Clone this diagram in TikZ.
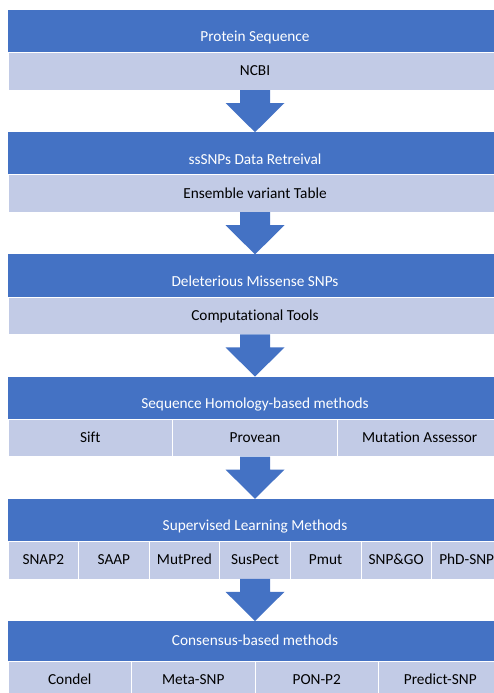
\documentclass[tikz,border=0pt]{standalone}
\usepackage{fontspec}
\setmainfont{Carlito}[Ligatures=NoCommon]
\usetikzlibrary{calc}
\definecolor{hdrblue}{HTML}{4472C4}
\definecolor{cellblue}{HTML}{C2CBE6}
\newcommand{\blockarrow}[2]{%
  \fill[flow] ($(#1)+(-15,0)$) -- ($(#1)+(-15,13)$) -- ($(#1)+(-29.5,13)$) -- (#2)
    -- ($(#1)+(29.5,13)$) -- ($(#1)+(15,13)$) -- ($(#1)+(15,0)$) -- cycle;}
\begin{document}
\begin{tikzpicture}[x=1pt,y=-1pt,
  base/.style={inner sep=0pt, outer sep=0pt, anchor=north west,
    font=\fontsize{15.3}{17}\selectfont},
  hdr/.style={base, fill=hdrblue, text=white, minimum width=494pt,
    minimum height=42.5pt, text height=22pt, text depth=0.6pt},
  hdrlast/.style={hdr, minimum height=40pt, text height=10pt, text depth=0.6pt},
  cell/.style={base, fill=cellblue, draw=white, line width=0.6pt, text=black,
    minimum height=37.5pt, text height=10pt, text depth=0.6pt},
  flow/.style={fill=hdrblue}]
\useasboundingbox (0,0) rectangle (494,693);
\clip (0,0) rectangle (494,693);
% block 1
\node[hdr] (h1) at (8,10) {Protein Sequence};
\node[cell, minimum width=494pt] (c1) at (8,52.5) {NCBI};
% block 2
\node[hdr] (h2) at (8,132.2) {ssSNPs Data Retreival};
\node[cell, minimum width=494pt] (c2) at (8,174.7) {Ensemble variant Table};
% block 3
\node[hdr] (h3) at (8,254.4) {Deleterious Missense SNPs};
\node[cell, minimum width=494pt] (c3) at (8,296.9) {Computational Tools};
% block 4
\node[hdr] (h4) at (8,376.6) {Sequence Homology-based methods};
\node[cell, minimum width=164.667pt] (c4a) at (8,419.1) {Sift};
\node[cell, minimum width=164.667pt] (c4b) at (172.667,419.1) {Provean};
\node[cell, minimum width=164.667pt] (c4c) at (337.333,419.1) {Mutation Assessor};
% block 5
\node[hdr] (h5) at (8,498.8) {Supervised Learning Methods};
\node[cell, minimum width=70.571pt] (c5a) at (8,541.3) {SNAP2};
\node[cell, minimum width=70.571pt] (c5b) at (78.571,541.3) {SAAP};
\node[cell, minimum width=70.571pt] (c5c) at (149.143,541.3) {MutPred};
\node[cell, minimum width=70.571pt] (c5d) at (219.714,541.3) {SusPect};
\node[cell, minimum width=70.571pt] (c5e) at (290.286,541.3) {Pmut};
\node[cell, minimum width=70.571pt] (c5f) at (360.857,541.3) {SNP\&GO};
\node[cell, minimum width=70.571pt] (c5g) at (431.429,541.3) {PhD-SNP};
% block 6
\node[hdrlast] (h6) at (8,621) {Consensus-based methods};
\node[cell, minimum width=123.5pt] (c6a) at (8,661) {Condel};
\node[cell, minimum width=123.5pt] (c6b) at (131.5,661) {Meta-SNP};
\node[cell, minimum width=123.5pt] (c6c) at (255,661) {PON-P2};
\node[cell, minimum width=123.5pt] (c6d) at (378.5,661) {Predict-SNP};
% arrows
\blockarrow{c1.south}{h2.north}
\blockarrow{c2.south}{h3.north}
\blockarrow{c3.south}{h4.north}
\blockarrow{c4b.south}{h5.north}
\blockarrow{c5d.south}{h6.north}
\end{tikzpicture}
\end{document}
